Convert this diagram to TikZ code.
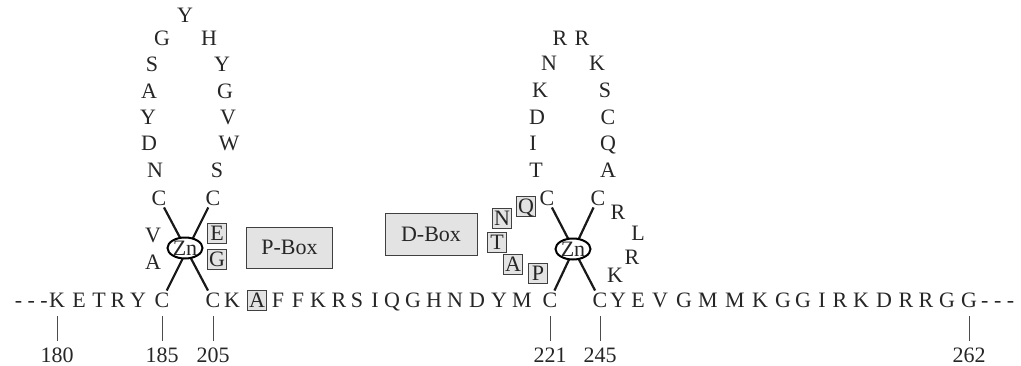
\documentclass[tikz,border=0pt]{standalone}
\usepackage{fontspec}
\setmainfont{Liberation Serif}
\usetikzlibrary{shapes.geometric}
\begin{document}
\begin{tikzpicture}[x=1pt,y=-1pt,
  every node/.style={font=\fontsize{22}{26}\selectfont, text=black!85},
  aa/.style={inner sep=2pt, text height=14.5pt, text depth=0pt},
  bx/.style={draw=black!75, fill=gray!22, line width=0.8pt, inner sep=0pt,
     minimum width=19pt, minimum height=20pt, text height=14.5pt, text depth=0pt},
  bigbox/.style={draw=black!75, fill=gray!22, line width=0.8pt, inner sep=0pt},
  zn/.style={ellipse, draw=black, line width=2pt, fill=white, inner sep=0pt,
     minimum width=35pt, minimum height=21pt, text height=14pt, text depth=0pt},
  xline/.style={line width=2.2pt, black!90},
  tick/.style={line width=0.8pt, black!70}]
\useasboundingbox (0,0) rectangle (1021,365);

% main row
\node[aa, anchor=east] (dl) at (50,300) {- - -};
\foreach \t/\x/\n in {K/57/r180, E/79/r181, T/99/r182, R/118/r183, Y/138/r184, C/162/r185,
  C/213/r205, K/232/r206, F/278/r208, F/298/r209, K/318/r210, R/339/r211, S/357/r212,
  I/375/r213, Q/392/r214, G/413/r215, H/434/r216, N/455/r217, D/477/r218, Y/499/r219,
  M/522/r220, C/550/r221,
  C/600/r245, Y/618/r246, E/638/r247, V/660/r248, G/684/r249, M/708/r250, M/735/r251,
  K/760/r252, G/783/r253, G/803/r254, I/822/r255, R/840/r256, K/861/r257, D/884/r258,
  R/906/r259, R/926/r260, G/947/r261, G/969/r262}
  \node[aa] (\n) at (\x,300) {\t};
\node[bx] (r207) at (257,300) {A};
\node[aa, anchor=west] (dr) at (979,300) {- - -};

% position numbers
\foreach \t/\x in {180/57, 185/162, 205/213, 221/550, 245/600, 262/969}{
  \node[aa] (n\t) at (\x,355) {\t};
  \draw[tick] ([yshift=-7pt]r\t.south) -- ([yshift=5pt]n\t.north);
}

% first zinc finger loop
\foreach \t/\x/\y/\n in {Y/185/15/a1, G/162/38/a2, H/209/38/a3, S/152/64/a4, Y/222/64/a5,
  A/149/91/a6, G/225/91/a7, Y/148/117/a8, V/228/117/a9, D/149/143/a10, W/229/143/a11,
  N/155/170/a12, S/217/170/a13, C/159/198/aCl, C/213/198/aCr, V/153/235/a14, A/153/262/a15}
  \node[aa] (\n) at (\x,\y) {\t};
\node[bx] (aE) at (217,233) {E};
\node[bx] (aG) at (217,259) {G};
\draw[xline] (aCl) -- (r205);
\draw[xline] (aCr) -- (r185);
\node[zn] (zn1) at (185,248) {Zn};

% boxes
\node[bigbox, minimum width=86pt, minimum height=41pt] (pbox) at (289.5,247.5) {P-Box};
\node[bigbox, minimum width=92pt, minimum height=42pt] (dbox) at (431,234) {D-Box};

% second zinc finger loop
\foreach \t/\x/\y/\n in {R/560/38/b1, R/582/38/b2, N/549/63/b3, K/597/63/b4, K/540/90/b5,
  S/605/90/b6, D/537/117/b7, C/608/117/b8, I/533/143/b9, Q/608/143/b10, T/536/170/b11,
  A/608/170/b12, C/547/198/bCl, C/598/198/bCr, R/618/212/b13, L/638/233/b14,
  R/632/257/b15, K/615/275/b16}
  \node[aa] (\n) at (\x,\y) {\t};
\node[bx] (bQ) at (526,206) {Q};
\node[bx] (bN) at (502,218) {N};
\node[bx] (bT) at (497,242) {T};
\node[bx] (bA) at (513,264) {A};
\node[bx] (bP) at (538,273) {P};
\draw[xline] (bCl) -- (r245);
\draw[xline] (bCr) -- (r221);
\node[zn] (zn2) at (573,249) {Zn};
\end{tikzpicture}
\end{document}
